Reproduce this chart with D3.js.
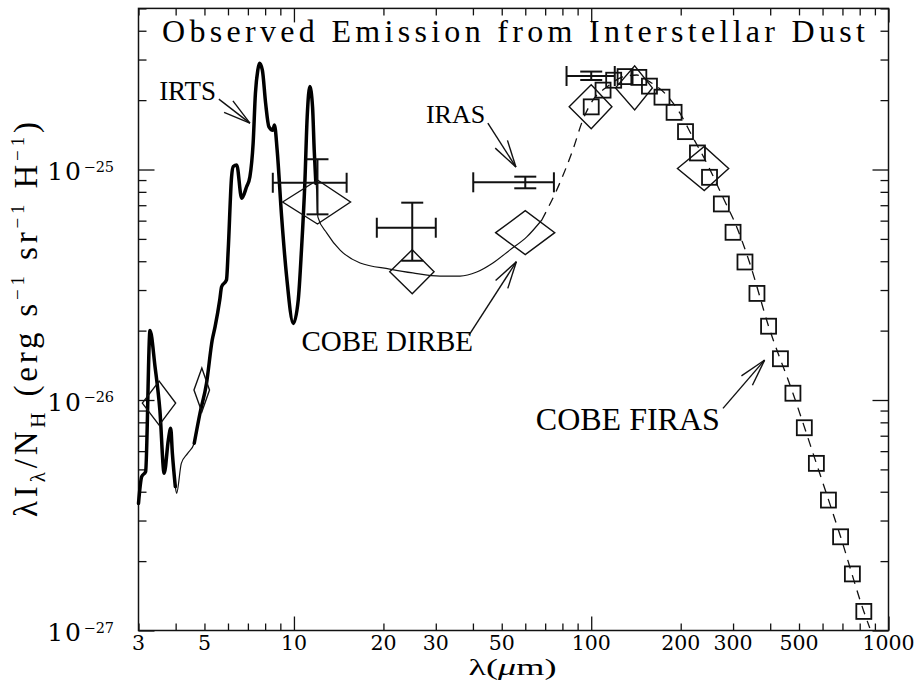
<!DOCTYPE html>
<html>
<head>
<meta charset="utf-8">
<script src="https://cdn.jsdelivr.net/npm/d3@7"></script>
<style>
  body { margin: 0; background: #fff; }
  text { font-family: "Liberation Serif", "Times New Roman", serif; fill: #000; }
  .num { font-family: "DejaVu Serif", serif; }
</style>
</head>
<body>
<div id="chart"></div>
<script>
// ---- data (wavelength in micron, lambda*I_lambda/N_H in erg s-1 sr-1 H-1) ----

// IRTS spectrum (null = no data)
const irtsLam = [3.0, 3.075, 3.17, 3.28, 3.41, 3.54, 3.66, 3.78, 3.85, 3.90, 3.99, 4.3,
  4.62, 4.83, 5.08, 5.31, 5.43, 5.63, 5.71, 5.93, 6.01, 6.17, 6.25, 6.42, 6.67, 6.93,
  7.11, 7.29, 7.42, 7.56, 7.66, 7.83, 8.03, 8.24, 8.49, 8.60, 8.78, 9.09, 9.45, 9.95,
  10.34, 10.6, 10.88, 11.08, 11.31, 11.55, 11.70, 11.85];
const irtsVal = [3.56e-27, 4.65e-27, 4.89e-27, 2.0e-26, 1.395e-26, 9.05e-27, 4.81e-27,
  6.71e-27, 7.54e-27, 5.87e-27, 4.21e-27, null,
  6.49e-27, 8.76e-27, 1.18e-26, 1.82e-26, 2.08e-26, 2.72e-26, 3.10e-26, 3.32e-26,
  4.47e-26, 9.31e-26, 1.03e-25, 1.046e-25, 7.50e-26, 8.42e-26, 9.31e-26, 1.30e-25,
  2.14e-25, 2.70e-25, 2.89e-25, 2.70e-25, 1.94e-25, 1.53e-25, 1.48e-25, 1.56e-25,
  1.215e-25, 6.24e-26, 3.43e-26, 2.15e-26, 2.72e-26, 4.47e-26, 8.71e-26, 1.69e-25,
  2.29e-25, 1.87e-25, 1.215e-25, 8.71e-26];

// thin model curve bridging the IRTS gap
const modelPahLam = [3.85, 3.90, 3.99, 4.03, 4.18, 4.39, 4.62, 4.83];
const modelPahVal = [7.54e-27, 5.87e-27, 4.21e-27, 3.94e-27, 5.31e-27, 5.87e-27, 6.49e-27, 8.76e-27];

// model curve from 11 micron out (solid up to dashStart, dashed beyond)
const modelLam = [11.31, 11.55, 11.70, 11.92, 12.04, 12.9, 14.3, 16.7, 21.0, 25.1, 31.0,
  36.2, 41.2, 46.7, 53.2, 60.7, 68.2, 78.4, 86.7, 93.7, 101.3, 112.8, 127.7, 142.4,
  157.4, 179.5, 198.6, 219.6, 244.7, 277, 308.6, 341.3, 395, 477, 572, 690, 826, 865];
const modelVal = [2.29e-25, 1.87e-25, 1.215e-25, 8.15e-26, 6.22e-26, 5.30e-26, 4.47e-26,
  3.93e-26, 3.70e-26, 3.56e-26, 3.45e-26, 3.45e-26, 3.59e-26, 3.93e-26, 4.47e-26,
  5.10e-26, 6.04e-26, 8.74e-26, 1.215e-25, 1.64e-25, 2.0e-25, 2.28e-25, 2.52e-25,
  2.57e-25, 2.40e-25, 2.10e-25, 1.76e-25, 1.38e-25, 1.067e-25, 7.60e-26, 5.63e-26,
  3.93e-26, 2.09e-26, 1.07e-26, 5.31e-27, 2.55e-27, 1.21e-27, 1.025e-27];
const dashStart = 68.2;

// COBE DIRBE (band edges give the diamond width)
const dirbeLam = [3.52, 4.9, 12, 25, 60, 100, 140, 240];
const dirbeLo  = [3.09, 4.61, 9.16, 21.0, 47.7, 84.3, 120.7, 195];
const dirbeHi  = [4.0, 5.2, 15.5, 29.6, 75.4, 117.4, 160.6, 290];
const dirbeVal = [9.7e-27, 1.105e-26, 7.23e-26, 3.60e-26, 5.32e-26, 1.87e-25, 2.26e-25, 1.01e-25];

// IRAS bands with error bars
const irasLam   = [12, 25, 60, 100];
const irasLo    = [8.49, 19.0, 40.1, 82.6];
const irasHi    = [15.04, 30.0, 74.9, 120];
const irasVal   = [8.76e-26, 5.59e-26, 8.80e-26, 2.545e-25];
const irasErrLo = [6.39e-26, 4.02e-26, 8.29e-26, 2.445e-25];
const irasErrHi = [1.108e-25, 7.18e-26, 9.31e-26, 2.66e-25];

// COBE FIRAS
const firasLam = [100, 109.6, 119, 130, 144.6, 157, 173, 190, 207.6, 227.7, 250, 274, 300,
  329, 361, 395, 433, 477, 521, 572, 628, 690, 756, 826];
const firasVal = [1.87e-25, 2.21e-25, 2.44e-25, 2.53e-25, 2.51e-25, 2.30e-25, 2.06e-25,
  1.77e-25, 1.46e-25, 1.18e-25, 9.25e-26, 7.09e-26, 5.34e-26, 3.97e-26, 2.90e-26,
  2.09e-26, 1.51e-26, 1.07e-26, 7.58e-27, 5.31e-27, 3.68e-27, 2.55e-27, 1.76e-27, 1.21e-27];

// tick labels
const xTickLabels = [3, 5, 10, 20, 30, 50, 100, 200, 300, 500, 1000];
const yTickLabels = [1e-27, 1e-26, 1e-25];

// annotations: label anchor and arrow (tail -> tip) in data units
const noteText    = ["IRTS", "IRAS", "COBE DIRBE", "COBE FIRAS"];
const noteLam     = [3.52, 27.8, 10.6, 65.1];
const noteVal     = [2.0e-25, 1.59e-25, 1.63e-26, 7.41e-27];
const arrowFromLam = [5.59, 44.9, 38.8, 277.5];
const arrowFromVal = [2.02e-25, 1.59e-25, 1.91e-26, 9.2e-27];
const arrowToLam   = [7.11, 55.8, 56.0, 383];
const arrowToVal   = [1.59e-25, 1.025e-25, 3.98e-26, 1.49e-26];

// ---- layout ----
const margin = {top: 8.4, right: 30.5, bottom: 51.5, left: 138.5},
  width = 919 - margin.left - margin.right,
  height = 682 - margin.top - margin.bottom;

const svg = d3.select("#chart")
  .append("svg")
    .attr("width", 919)
    .attr("height", 682)
  .append("g")
    .attr("transform", "translate(" + margin.left + "," + margin.top + ")");

const x = d3.scaleLog().domain([3, 1000]).range([0, width]);
const y = d3.scaleLog().domain([1e-27, 5e-25]).range([height, 0]);

const isMajor = v => Math.abs(Math.log10(v) - Math.round(Math.log10(v))) < 1e-6;
const xMinor = x.ticks().filter(d => !isMajor(d)), xMajor = x.ticks().filter(isMajor);
const yMinor = y.ticks().filter(d => !isMajor(d)), yMajor = y.ticks().filter(isMajor);

// ticks on all four sides, pointing inward
function ticks(axis, tx, ty) {
  svg.append("g")
    .attr("transform", "translate(" + tx + "," + ty + ")")
    .call(axis.tickFormat(""))
    .call(g => g.select(".domain").remove())
    .call(g => g.selectAll("line").attr("stroke", "#111").attr("stroke-width", 1.3));
}
ticks(d3.axisBottom(x).tickValues(xMinor).tickSize(-7), 0, height);
ticks(d3.axisBottom(x).tickValues(xMajor).tickSize(-14), 0, height);
ticks(d3.axisTop(x).tickValues(xMinor).tickSize(-7), 0, 0);
ticks(d3.axisTop(x).tickValues(xMajor).tickSize(-14), 0, 0);
ticks(d3.axisLeft(y).tickValues(yMinor).tickSize(-8), 0, 0);
ticks(d3.axisLeft(y).tickValues(yMajor).tickSize(-16), 0, 0);
ticks(d3.axisRight(y).tickValues(yMinor).tickSize(-8), width, 0);
ticks(d3.axisRight(y).tickValues(yMajor).tickSize(-16), width, 0);

svg.append("rect")
  .attr("width", width).attr("height", height)
  .attr("fill", "none").attr("stroke", "#111").attr("stroke-width", 1.5);

// tick labels
svg.selectAll(".xlab")
  .data(xTickLabels).join("text")
  .attr("class", "num")
  .attr("x", d => x(d))
  .attr("y", height + 20)
  .attr("text-anchor", "middle")
  .style("font-size", "20.5px")
  .text(d => d);

yTickLabels.forEach(function(v) {
  const py = y(v) + 11;
  svg.append("text").attr("class", "num")
    .attr("x", -55.5).attr("y", py)
    .attr("text-anchor", "end")
    .style("font-size", "25px").style("letter-spacing", "2px")
    .text("10");
  svg.append("text").attr("class", "num")
    .attr("x", -55).attr("y", py - 8.5)
    .style("font-size", "14.5px")
    .text("\u2212" + (-Math.round(Math.log10(v))));
});

// axis titles
svg.append("text")
  .attr("x", 512.5 - margin.left).attr("y", 675.5 - margin.top)
  .attr("text-anchor", "middle")
  .attr("textLength", 88).attr("lengthAdjust", "spacingAndGlyphs")
  .style("font-size", "24px")
  .call(t => {
    t.append("tspan").text("\u03bb(");
    t.append("tspan").style("font-style", "italic").text("\u03bc");
    t.append("tspan").text("m)");
  });

const yTitle = svg.append("text")
  .attr("transform", "translate(" + (37 - margin.left) + "," + (319.5 - margin.top) + ") rotate(-90)")
  .attr("text-anchor", "middle")
  .attr("textLength", 395).attr("lengthAdjust", "spacing")
  .style("font-size", "33px");
[["\u03bbI", 0], ["\u03bb", 1], ["/N", 0], ["H", 1], [" (erg s", 0], ["\u22121", 2],
 [" sr", 0], ["\u22121", 2], [" H", 0], ["\u22121", 2], [")", 0]].forEach(function(p, i, arr) {
  const prev = i > 0 ? arr[i - 1][1] : 0;
  const off = k => k === 1 ? 8 : k === 2 ? -13 : 0;
  yTitle.append("tspan")
    .attr("dy", off(p[1]) - off(prev))
    .style("font-size", p[1] === 0 ? "33px" : p[1] === 1 ? "21px" : "19px")
    .text(p[0]);
});

// title inside the frame
svg.append("text")
  .attr("x", 162 - margin.left).attr("y", 42 - margin.top)
  .attr("textLength", 703).attr("lengthAdjust", "spacing")
  .style("font-size", "32px")
  .text("Observed Emission from Interstellar Dust");

// ---- curves ----
const line = d3.line()
  .defined(d => d[1] != null)
  .x(d => x(d[0]))
  .y(d => y(d[1]))
  .curve(d3.curveMonotoneX);

const model = modelLam.map((l, i) => [l, modelVal[i]]);

svg.append("path")
  .attr("d", line(modelPahLam.map((l, i) => [l, modelPahVal[i]])))
  .attr("fill", "none").attr("stroke", "#111").attr("stroke-width", 1.2);

svg.append("path")
  .attr("d", line(model.filter(d => d[0] <= dashStart)))
  .attr("fill", "none").attr("stroke", "#111").attr("stroke-width", 1.2);

svg.append("path")
  .attr("d", line(model.filter(d => d[0] >= dashStart)))
  .attr("fill", "none").attr("stroke", "#111").attr("stroke-width", 1.3)
  .attr("stroke-dasharray", "9,7");

svg.append("path")
  .attr("d", line(irtsLam.map((l, i) => [l, irtsVal[i]])))
  .attr("fill", "none").attr("stroke", "#000").attr("stroke-width", 3.5)
  .attr("stroke-linejoin", "round").attr("stroke-linecap", "round");

// ---- COBE DIRBE diamonds ----
svg.selectAll(".dirbe")
  .data(dirbeLam).join("path")
  .attr("d", (d, i) => {
    const cy = y(dirbeVal[i]), h = 22;
    return "M" + x(dirbeLo[i]) + "," + cy + "L" + x(d) + "," + (cy - h) +
      "L" + x(dirbeHi[i]) + "," + cy + "L" + x(d) + "," + (cy + h) + "Z";
  })
  .attr("fill", "none").attr("stroke", "#111").attr("stroke-width", 1.4);

// ---- IRAS crosses ----
irasLam.forEach(function(l, i) {
  const g = svg.append("g").attr("stroke", "#111").attr("stroke-width", 2).attr("fill", "none");
  const cx = x(l), cy = y(irasVal[i]), x0 = x(irasLo[i]), x1 = x(irasHi[i]);
  const yt = y(irasErrHi[i]), yb = y(irasErrLo[i]);
  const seg = (a, b, c, d) => g.append("line").attr("x1", a).attr("y1", b).attr("x2", c).attr("y2", d);
  seg(x0, cy, x1, cy);
  seg(x0, cy - 10, x0, cy + 10);
  seg(x1, cy - 10, x1, cy + 10);
  seg(cx, yt, cx, yb);
  seg(cx - 11, yt, cx + 11, yt);
  seg(cx - 11, yb, cx + 11, yb);
});

// ---- COBE FIRAS squares ----
svg.selectAll(".firas")
  .data(firasLam).join("rect")
  .attr("x", d => x(d) - 7.5)
  .attr("y", (d, i) => y(firasVal[i]) - 7.5)
  .attr("width", 15).attr("height", 15)
  .attr("fill", "none").attr("stroke", "#111").attr("stroke-width", 1.8);

// ---- annotations ----
const noteSize = [27, 26, 29, 32];
noteText.forEach(function(t, i) {
  svg.append("text")
    .attr("x", x(noteLam[i])).attr("y", y(noteVal[i]))
    .style("font-size", noteSize[i] + "px")
    .text(t);

  const ax0 = x(arrowFromLam[i]), ay0 = y(arrowFromVal[i]);
  const ax1 = x(arrowToLam[i]), ay1 = y(arrowToVal[i]);
  const ang = Math.atan2(ay0 - ay1, ax0 - ax1), len = 28, spread = 15 * Math.PI / 180;
  const g = svg.append("g").attr("stroke", "#111").attr("stroke-width", 1.4);
  g.append("line").attr("x1", ax0).attr("y1", ay0).attr("x2", ax1).attr("y2", ay1);
  [-spread, spread].forEach(s => {
    g.append("line")
      .attr("x1", ax1).attr("y1", ay1)
      .attr("x2", ax1 + len * Math.cos(ang + s))
      .attr("y2", ay1 + len * Math.sin(ang + s));
  });
});
</script>
</body>
</html>
